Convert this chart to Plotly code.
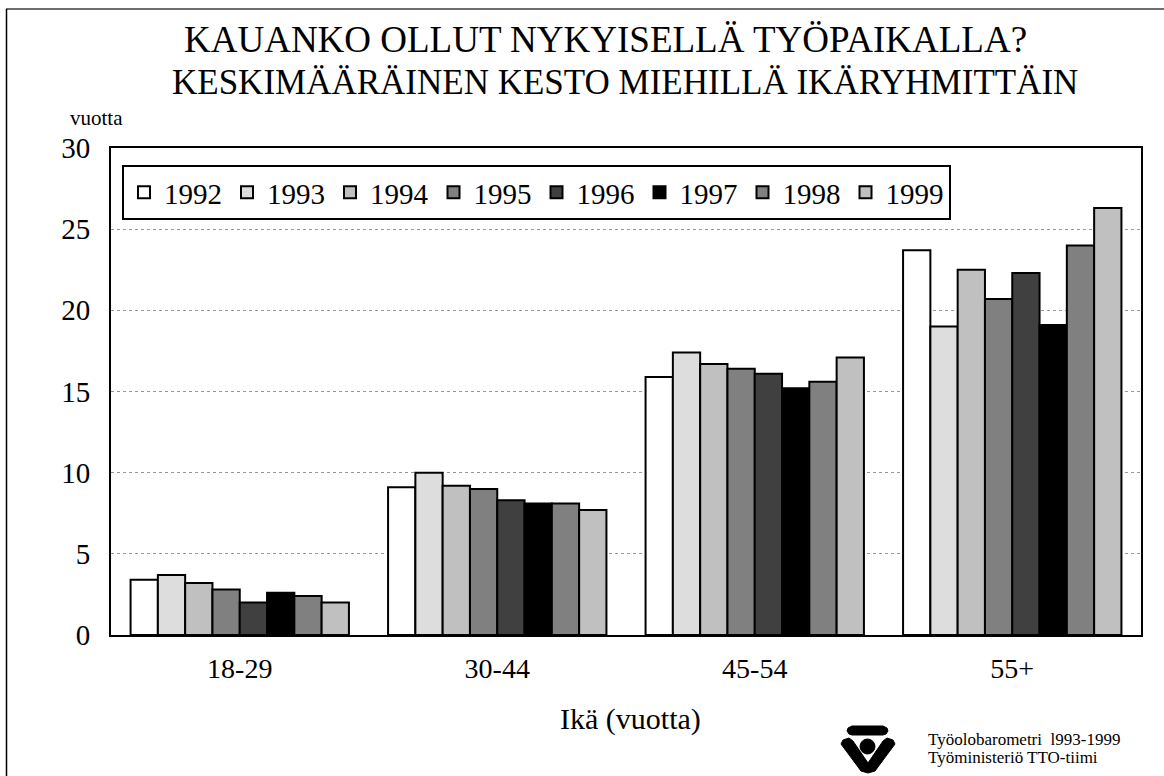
import plotly.graph_objects as go

categories = ["18-29", "30-44", "45-54", "55+"]
years = ["1992", "1993", "1994", "1995", "1996", "1997", "1998", "1999"]
v1992 = [3.4, 9.1, 15.9, 23.7]
v1993 = [3.7, 10.0, 17.4, 19.0]
v1994 = [3.2, 9.2, 16.7, 22.5]
v1995 = [2.8, 9.0, 16.4, 20.7]
v1996 = [2.0, 8.3, 16.1, 22.3]
v1997 = [2.6, 8.1, 15.2, 19.1]
v1998 = [2.4, 8.1, 15.6, 24.0]
v1999 = [2.0, 7.7, 17.1, 26.3]
series = [v1992, v1993, v1994, v1995, v1996, v1997, v1998, v1999]
colors = ["#ffffff", "#dddddd", "#c0c0c0", "#808080", "#404040", "#000000", "#808080", "#c0c0c0"]

W, H = 1164, 776
ML, MR, MT, MB = 111, 23, 148, 141
PW, PH = W - ML - MR, H - MT - MB

def px(x):
    return (x - ML) / PW

def py(y):
    return (H - MB - y) / PH

FONT = "Liberation Serif, Times New Roman, serif"

fig = go.Figure()
for name, vals, col in zip(years, series, colors):
    fig.add_trace(go.Bar(
        x=categories, y=vals, name=name,
        marker=dict(color=col, line=dict(color="#000000", width=2)),
    ))

def txt(text, x, y, size, xanchor="center"):
    return dict(text=text, x=px(x), y=py(y), xref="paper", yref="paper", showarrow=False,
                font=dict(family=FONT, size=size, color="#000"), xanchor=xanchor, yanchor="middle")

annotations = [
    txt("KAUANKO OLLUT NYKYISELLÄ TYÖPAIKALLA?", 605, 39, 37),
    txt("KESKIMÄÄRÄINEN KESTO MIEHILLÄ IKÄRYHMITTÄIN", 625, 82, 35),
    txt("vuotta", 96, 118, 21),
    txt("Ikä (vuotta)", 630, 719, 30),
    txt("Työolobarometri  l993-1999", 926, 739, 17, "left"),
    txt("Työministeriö TTO-tiimi", 926, 757, 17, "left"),
]

def poly(points):
    return "M " + " L ".join(f"{px(x)},{py(y)}" for x, y in points) + " Z"

shapes = [
    # outer frame (top and left edges)
    dict(type="line", xref="paper", yref="paper", x0=px(6), x1=px(1170), y0=py(9), y1=py(9),
         line=dict(color="#6e6e6e", width=2)),
    dict(type="line", xref="paper", yref="paper", x0=px(6.5), x1=px(6.5), y0=py(9), y1=py(780),
         line=dict(color="#000", width=1.5)),
    # logo: top bar
    dict(type="path", xref="paper", yref="paper",
         path=poly([(852, 726), (883, 726), (887, 728), (888, 731), (886, 734), (883, 735),
                    (852, 735), (849, 734), (847, 731), (848, 728)]),
         fillcolor="#000", line=dict(color="#000", width=1)),
    # logo: circle
    dict(type="circle", xref="paper", yref="paper", x0=px(860), x1=px(875), y0=py(754), y1=py(739),
         fillcolor="#000", line=dict(color="#000", width=1)),
    # logo: V
    dict(type="path", xref="paper", yref="paper",
         path=poly([(841, 744), (843, 740), (849, 738), (853, 741), (868, 763), (883, 741),
                    (887, 738), (893, 740), (895, 744), (875, 771), (868, 773), (861, 771)]),
         fillcolor="#000", line=dict(color="#000", width=1)),
]

fig.update_layout(
    width=W, height=H,
    margin=dict(l=ML, r=MR, t=MT, b=MB),
    paper_bgcolor="#ffffff", plot_bgcolor="#ffffff",
    barmode="group", bargap=0.152, bargroupgap=0.0,
    font=dict(family=FONT, color="#000"),
    showlegend=True,
    legend=dict(orientation="h", x=px(122), y=py(165), xanchor="left", yanchor="top",
                bordercolor="#000", borderwidth=2, bgcolor="#fff",
                font=dict(family=FONT, size=29, color="#000"),
                itemwidth=30, tracegroupgap=0),
    annotations=annotations,
    shapes=shapes,
    xaxis=dict(showline=True, linecolor="#000", linewidth=2, mirror=True,
               tickfont=dict(family=FONT, size=28, color="#000"), ticks="", ticklabelstandoff=7),
    yaxis=dict(range=[0, 30], dtick=5, showline=True, linecolor="#000", linewidth=2, mirror=True,
               showgrid=True, gridcolor="#999999", griddash="dot", gridwidth=1,
               tickfont=dict(family=FONT, size=29, color="#000"), ticks="", ticklabelstandoff=13,
               zeroline=False),
)

fig.write_html("out.html", config={"displayModeBar": False},
               post_script="document.body.style.margin='0px';")
